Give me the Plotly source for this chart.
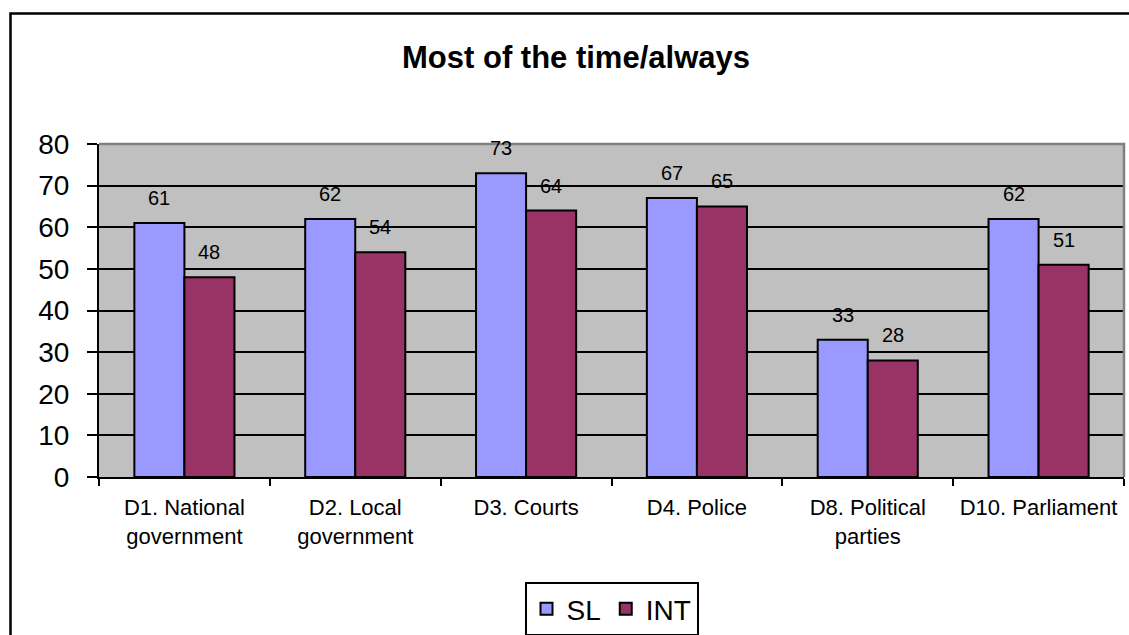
import plotly.graph_objects as go

categories = ["D1. National<br>government", "D2. Local<br>government", "D3. Courts",
              "D4. Police", "D8. Political<br>parties", "D10. Parliament"]
series_names = ["SL", "INT"]
sl_values = [61, 62, 73, 67, 33, 62]
int_values = [48, 54, 64, 65, 28, 51]
y_ticks = [0, 10, 20, 30, 40, 50, 60, 70, 80]

SL_COLOR = "#9999FF"
INT_COLOR = "#993366"
FONT = "Liberation Sans, Arial, sans-serif"

W, H = 1129, 635
ML, MR, MT, MB = 99, 5, 144, 158
PW = W - ML - MR
PH = H - MT - MB
BARGAP = 0.414

fig = go.Figure()
for name, vals, col in [(series_names[0], sl_values, SL_COLOR), (series_names[1], int_values, INT_COLOR)]:
    fig.add_trace(go.Bar(
        name=name, x=categories, y=vals,
        marker=dict(color=col, line=dict(color="black", width=2)),
    ))

# data labels above bars
cat_px = PW / len(categories)
bar_px = cat_px * (1 - BARGAP) / 2
annotations = []
for vals, sign in [(sl_values, -1), (int_values, 1)]:
    for c, v in zip(categories, vals):
        annotations.append(dict(
            x=c, y=v, xref="x", yref="y", text=str(v), showarrow=False,
            xshift=sign * bar_px / 2, yshift=25, yanchor="middle",
            font=dict(family=FONT, size=20, color="black"),
        ))

shapes = [
    # top and right plot-area border (gray)
    dict(type="path", xref="paper", yref="paper", path="M 0,1 L 1,1 L 1,0",
         line=dict(color="#808080", width=2.5), layer="above"),
    # outer chart border
    dict(type="rect", xref="paper", yref="paper",
         x0=(10.5 - ML) / PW, x1=(1140 - ML) / PW,
         y0=-(H + 10 - MT - PH) / PH, y1=(H - MB - 13.5) / PH,
         line=dict(color="black", width=2.5), fillcolor="rgba(0,0,0,0)"),
]

fig.update_layout(
    width=W, height=H,
    margin=dict(l=ML, r=MR, t=MT, b=MB, autoexpand=False),
    paper_bgcolor="white", plot_bgcolor="#C0C0C0",
    barmode="group", bargap=BARGAP, bargroupgap=0,
    title=dict(text="<b>Most of the time/always</b>", x=576 / W, xref="container",
               xanchor="center", y=1 - 57 / H, yanchor="middle",
               font=dict(family=FONT, size=31, color="black")),
    xaxis=dict(showgrid=False, showline=True, linecolor="black", linewidth=2,
               ticks="outside", tickson="boundaries", ticklen=7, tickwidth=2, tickcolor="black",
               tickfont=dict(family=FONT, size=22, color="#000000"), ticklabelstandoff=10),
    yaxis=dict(range=[0, 80], tickvals=y_ticks, showgrid=True, gridcolor="black", gridwidth=2,
               zeroline=False, showline=True, linecolor="black", linewidth=2,
               ticks="outside", ticklen=10, tickwidth=2, tickcolor="black",
               tickfont=dict(family=FONT, size=28, color="black"), ticklabelstandoff=12),
    legend=dict(orientation="h", x=0.5, xanchor="center", y=-(582 - (H - MB)) / PH, yanchor="top",
                bordercolor="black", borderwidth=2, bgcolor="white",
                font=dict(family=FONT, size=28, color="black")),
    annotations=annotations,
    shapes=shapes,
)

fig.write_html("out.html")
